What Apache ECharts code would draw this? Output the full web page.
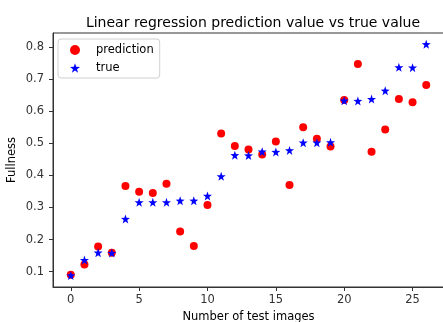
<!DOCTYPE html>
<html><head><meta charset="utf-8">
<script src="https://cdn.jsdelivr.net/npm/echarts@6/dist/echarts.min.js"></script>
<style>html,body{margin:0;padding:0;background:#fff}#c{width:443px;height:322px}</style>
</head><body><div id="c"></div>
<script>
const imageIndex = [0,1,2,3,4,5,6,7,8,9,10,11,12,13,14,15,16,17,18,19,20,21,22,23,24,25,26];
const prediction = [0.090,0.122,0.178,0.159,0.367,0.349,0.345,0.374,0.225,0.180,0.308,0.531,0.492,0.481,0.465,0.506,0.370,0.550,0.514,0.490,0.635,0.747,0.474,0.543,0.638,0.628,0.682];
const trueValue = [0.088,0.136,0.159,0.158,0.264,0.316,0.316,0.316,0.321,0.321,0.336,0.397,0.463,0.462,0.474,0.473,0.478,0.502,0.502,0.503,0.633,0.632,0.638,0.664,0.737,0.736,0.809];
const xTicks = [0,5,10,15,20,25];
const yTicks = [0.1,0.2,0.3,0.4,0.5,0.6,0.7,0.8];

const star = 'path://M0,-10 L2.35,-3.24 L9.51,-3.09 L3.8,1.24 L5.88,8.09 L0,4 L-5.88,8.09 L-3.8,1.24 L-9.51,-3.09 L-2.35,-3.24 Z';
const font = 'DejaVu Sans';
const fs = 11.5;
const chart = echarts.init(document.getElementById('c'), null, {renderer:'canvas'});
chart.setOption({
  animation:false,
  backgroundColor:'#fff',
  textStyle:{fontFamily:font},
  title:{text:'Linear regression prediction value vs true value', left:248, textAlign:'center', top:11,
    textStyle:{fontFamily:font,fontSize:14,fontWeight:'normal',color:'#000'}},
  grid:{left:53, top:33, width:391, height:254, outerBoundsMode:'none', containLabel:false,
    show:true, borderColor:'#333', borderWidth:1, backgroundColor:'transparent'},
  legend:{orient:'vertical', left:58, top:39, padding:[5,6,4,12], itemGap:6, itemWidth:10, itemHeight:10,
    borderColor:'#d0d0d0', borderWidth:1, borderRadius:3,
    textStyle:{fontFamily:font,fontSize:fs,color:'#000',padding:[0,0,0,11]},
    data:['prediction','true']},
  xAxis:{type:'value', min:-1.3, max:27.3, name:'Number of test images', nameLocation:'middle', nameGap:22,
    nameTextStyle:{fontFamily:font,fontSize:fs,color:'#000'},
    axisLine:{show:true,onZero:false,lineStyle:{color:'#333'}},
    axisTick:{show:true,length:4,customValues:xTicks,lineStyle:{color:'#333'}},
    axisLabel:{customValues:xTicks,fontFamily:font,fontSize:fs,color:'#333',margin:7},
    splitLine:{show:false}},
  yAxis:{type:'value', min:0.052, max:0.844, name:'Fullness', nameLocation:'middle', nameGap:35, nameMoveOverlap:false,
    nameTextStyle:{fontFamily:font,fontSize:fs,color:'#000'},
    axisLine:{show:true,onZero:false,lineStyle:{color:'#333'}},
    axisTick:{show:true,length:4,customValues:yTicks,lineStyle:{color:'#333'}},
    axisLabel:{customValues:yTicks,fontFamily:font,fontSize:fs,color:'#333',margin:9,formatter:v=>v.toFixed(1)},
    splitLine:{show:false}},
  series:[
    {name:'prediction', type:'scatter', symbol:'circle', symbolSize:8, itemStyle:{color:'#ff0000',opacity:1},
      data:imageIndex.map((x,i)=>[x,prediction[i]])},
    {name:'true', type:'scatter', symbol:star, symbolSize:9, itemStyle:{color:'#0000ff',opacity:1},
      data:imageIndex.map((x,i)=>[x,trueValue[i]])}
  ]
});
</script></body></html>
